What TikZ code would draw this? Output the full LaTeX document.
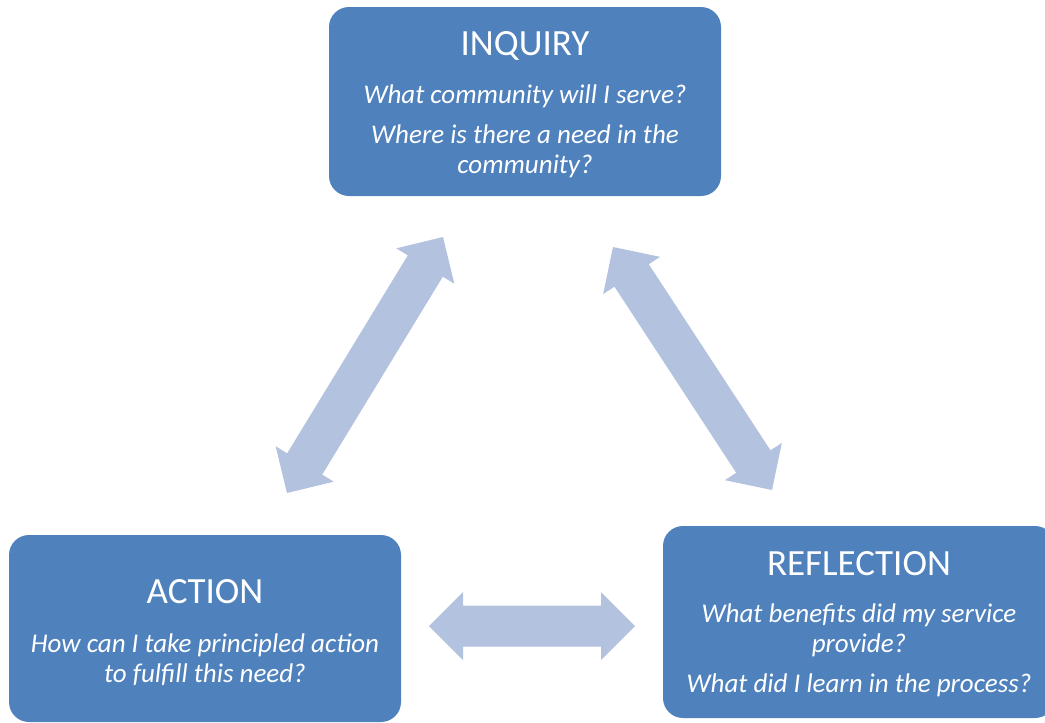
\documentclass[tikz,border=0pt]{standalone}
\usepackage{fontspec}
\setmainfont{Carlito}
\usetikzlibrary{calc}
\definecolor{boxc}{HTML}{4F81BD}
\definecolor{arrowc}{HTML}{B3C2DE}
\newcommand\dblarrow[3]{%
  \coordinate (#3a) at ($(#1)!34pt!(#2)$);
  \coordinate (#3b) at ($(#2)!34pt!(#1)$);
  \fill[arrowc] (#1) -- ($(#3a)!34pt!90:(#2)$) -- ($(#3a)!20.5pt!90:(#2)$)
    -- ($(#3b)!20.5pt!-90:(#1)$) -- ($(#3b)!34pt!-90:(#1)$) -- (#2)
    -- ($(#3b)!34pt!90:(#1)$) -- ($(#3b)!20.5pt!90:(#1)$)
    -- ($(#3a)!20.5pt!-90:(#2)$) -- ($(#3a)!34pt!-90:(#2)$) -- cycle;}
\tikzset{
  box/.style={fill=boxc, draw=none, rounded corners=20pt, inner sep=0pt},
  ttl/.style={anchor=base, text=white, font=\fontsize{37}{40}\selectfont},
  qst/.style={anchor=base, text=white, font=\fontsize{27}{30}\selectfont\itshape},
}
\begin{document}
\begin{tikzpicture}[x=1pt,y=-1pt]
\useasboundingbox (0,0) rectangle (1045,723);
% boxes
\node[box, minimum width=392pt, minimum height=189pt] (inq) at (525,101.5) {};
\node[box, minimum width=392pt, minimum height=187pt] (act) at (205,628.5) {};
\node[box, minimum width=392pt, minimum height=192pt] (ref) at (859,622) {};
% texts
\node[ttl] (inqT) at (525,55) {INQUIRY};
\node[qst] (inqQ1) at (525,103) {What community will I serve?};
\node[qst] (inqQ2) at (525,143) {Where is there a need in the};
\node[qst] (inqQ3) at (525,173) {community?};
\node[ttl] (actT) at (205,603) {ACTION};
\node[qst] (actQ1) at (205,652) {How can I take principled action};
\node[qst] (actQ2) at (205,682) {to fulfill this need?};
\node[ttl] (refT) at (859,575) {REFLECTION};
\node[qst] (refQ1) at (859,622) {What benefits did my service};
\node[qst] (refQ2) at (859,652) {provide?};
\node[qst] (refQ3) at (859,692) {What did I learn in the process?};
% arrows
\coordinate (la) at (287,493);
\coordinate (lb) at (443,237);
\coordinate (ra) at (613,247);
\coordinate (rb) at (772,490);
\coordinate (ba) at (429,626);
\coordinate (bb) at (635,626);
\dblarrow{la}{lb}{L}
\dblarrow{ra}{rb}{R}
\dblarrow{ba}{bb}{B}
\end{tikzpicture}
\end{document}
